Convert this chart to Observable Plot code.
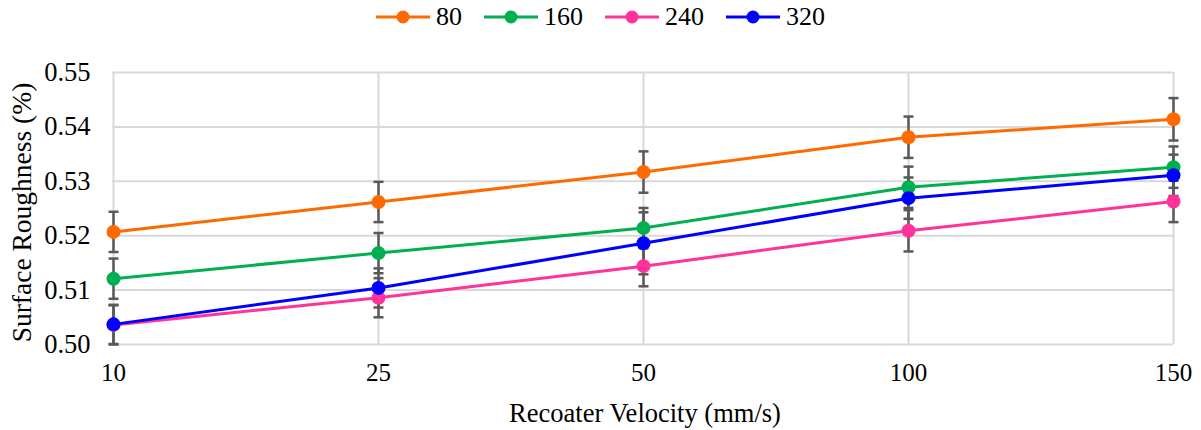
<!DOCTYPE html>
<html>
<head>
<meta charset="utf-8">
<script src="https://cdn.jsdelivr.net/npm/d3@7"></script>
<script src="https://cdn.jsdelivr.net/npm/@observablehq/plot@0.6"></script>
<style>
  body { margin: 0; background: #fff; font-family: "Liberation Serif", "Times New Roman", serif; }
  #legend { height: 40px; display: flex; justify-content: center; align-items: center; gap: 22px; font-size: 26px; color: #000; padding-bottom: 6px; box-sizing: border-box; }
  #legend .item { display: flex; align-items: center; gap: 6px; }
  #chart svg { display: block; }
</style>
</head>
<body>
<div id="legend"></div>
<div id="chart"></div>
<script>
const velocities = ["10", "25", "50", "100", "150"];
const seriesNames = ["80", "160", "240", "320"];
const colors = ["#FF6A00", "#00B050", "#FF3399", "#0000FF"];
const s80 = [0.5207, 0.5262, 0.5317, 0.5381, 0.5414];
const s160 = [0.5121, 0.5168, 0.5214, 0.5289, 0.5326];
const s240 = [0.5036, 0.5086, 0.5144, 0.5209, 0.5263];
const s320 = [0.5037, 0.5104, 0.5186, 0.5269, 0.5311];
const e80 = [0.0037, 0.0037, 0.0038, 0.0038, 0.0039];
const e160 = [0.0037, 0.0037, 0.0037, 0.0038, 0.0038];
const e240 = [0.0036, 0.0036, 0.0037, 0.0038, 0.0038];
const e320 = [0.0036, 0.0036, 0.0057, 0.0038, 0.0038];
const yTicks = [0.50, 0.51, 0.52, 0.53, 0.54, 0.55];
const xTitle = "Recoater Velocity (mm/s)";
const yTitle = "Surface Roughness (%)";

const allValues = [s80, s160, s240, s320];
const allErrors = [e80, e160, e240, e320];
const data = [];
seriesNames.forEach((name, si) => {
  velocities.forEach((v, i) => {
    data.push({series: name, v, y: allValues[si][i], err: allErrors[si][i]});
  });
});

// Legend
const legend = document.getElementById("legend");
seriesNames.forEach((name, i) => {
  const item = document.createElement("div");
  item.className = "item";
  item.innerHTML = `<svg width="54" height="16"><line x1="0" x2="54" y1="8" y2="8" stroke="${colors[i]}" stroke-width="3"/><circle cx="27" cy="8" r="6.5" fill="${colors[i]}"/></svg><span>${name}</span>`;
  legend.appendChild(item);
});

const capSymbol = {
  draw(context, size) {
    const r = Math.sqrt(size / Math.PI);
    context.moveTo(-r, 0);
    context.lineTo(r, 0);
  }
};

const chart = Plot.plot({
  width: 1201,
  height: 390,
  marginTop: 32,
  marginBottom: 86,
  marginLeft: 112,
  marginRight: 28,
  style: { fontFamily: "Liberation Serif, Times New Roman, serif", background: "#fff", color: "#000" },
  x: { type: "point", domain: velocities, padding: 0 },
  y: { domain: [0.50, 0.55] },
  color: { domain: seriesNames, range: colors },
  marks: [
    Plot.gridY(yTicks, { stroke: "#d9d9d9", strokeOpacity: 1, strokeWidth: 2 }),
    Plot.gridX(velocities, { stroke: "#d9d9d9", strokeOpacity: 1, strokeWidth: 2 }),
    Plot.axisY(yTicks, { tickSize: 0, tickPadding: 22, tickFormat: d3.format(".2f"), fontSize: 26.5, label: null }),
    Plot.axisX(velocities, { tickSize: 0, tickPadding: 19, fontSize: 25, label: null }),
    Plot.text([xTitle], { text: d => d, frameAnchor: "bottom", lineAnchor: "middle", dy: 69, dx: 2, fontSize: 26.5 }),
    Plot.text([yTitle], { text: d => d, frameAnchor: "left", lineAnchor: "middle", textAnchor: "middle", rotate: -90, dx: -90, dy: 4, fontSize: 27.5 }),
    Plot.ruleX(data, { x: "v", y1: d => d.y - d.err, y2: d => d.y + d.err, stroke: "#595959", strokeWidth: 2.5 }),
    Plot.dot(data, { x: "v", y: d => d.y - d.err, symbol: capSymbol, r: 5, stroke: "#595959", strokeWidth: 2.5, fill: "none" }),
    Plot.dot(data, { x: "v", y: d => d.y + d.err, symbol: capSymbol, r: 5, stroke: "#595959", strokeWidth: 2.5, fill: "none" }),
    Plot.line(data, { x: "v", y: "y", z: "series", stroke: "series", strokeWidth: 3 }),
    Plot.dot(data, { x: "v", y: "y", fill: "series", r: 7, stroke: "none" })
  ]
});
document.getElementById("chart").appendChild(chart);
</script>
</body>
</html>
